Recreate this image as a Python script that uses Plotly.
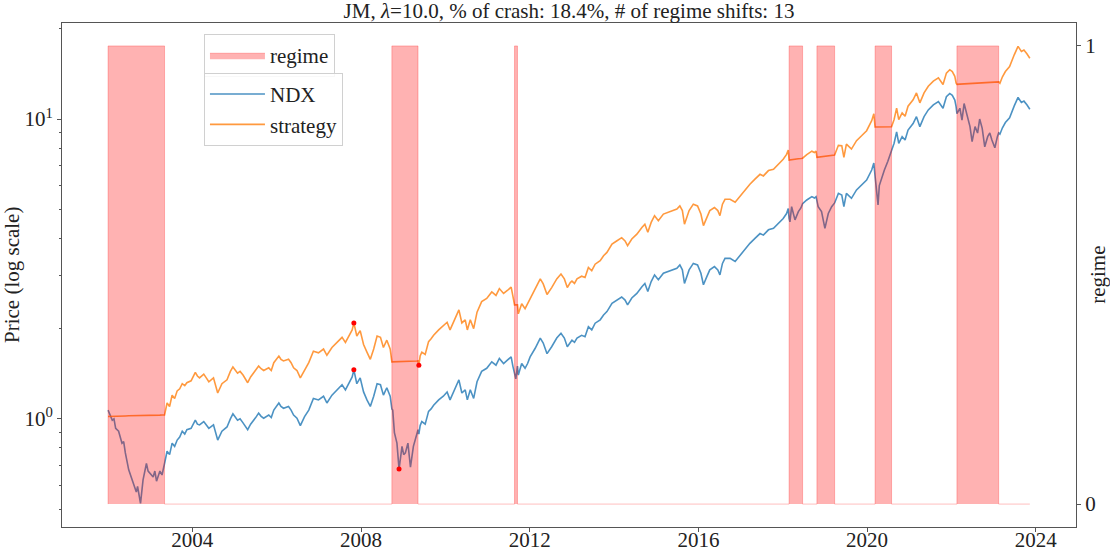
import math
from datetime import datetime
import plotly.graph_objects as go

# ---------------- data ----------------
dates = [
    2002.00, 2002.05, 2002.10, 2002.14, 2002.18, 2002.25, 2002.33, 2002.37, 2002.41, 2002.49, 2002.55, 2002.61, 2002.67, 2002.70, 2002.74, 2002.77, 2002.83, 2002.87, 2002.91, 2002.95, 2002.99,
    2003.07, 2003.11, 2003.15, 2003.23, 2003.28, 2003.34, 2003.40, 2003.46, 2003.52, 2003.58, 2003.64, 2003.70, 2003.76, 2003.82, 2003.87, 2003.97,
    2004.07, 2004.12, 2004.17, 2004.27, 2004.33, 2004.39, 2004.50, 2004.55, 2004.60, 2004.70, 2004.82, 2004.90, 2004.96,
    2005.07, 2005.13, 2005.20, 2005.31, 2005.38, 2005.44, 2005.50, 2005.57, 2005.63, 2005.69, 2005.81, 2005.87, 2005.93,
    2006.05, 2006.10, 2006.16, 2006.28, 2006.34, 2006.40, 2006.48, 2006.56, 2006.66, 2006.76, 2006.87, 2006.99,
    2007.11, 2007.19, 2007.31, 2007.43, 2007.55, 2007.63, 2007.74, 2007.79, 2007.83, 2007.87, 2007.90, 2007.98,
    2008.06, 2008.14, 2008.22, 2008.30, 2008.38, 2008.46, 2008.53, 2008.61, 2008.69, 2008.73, 2008.75, 2008.79, 2008.85, 2008.90, 2008.97,
    2009.01, 2009.05, 2009.11, 2009.17, 2009.24, 2009.32, 2009.35, 2009.37, 2009.40, 2009.44, 2009.52, 2009.60, 2009.66, 2009.72, 2009.84, 2009.95,
    2010.04, 2010.11, 2010.21, 2010.32, 2010.39, 2010.47, 2010.52, 2010.59, 2010.67, 2010.75, 2010.86, 2010.98,
    2011.10, 2011.20, 2011.28, 2011.38, 2011.47, 2011.56, 2011.60, 2011.63, 2011.64, 2011.67, 2011.71, 2011.73, 2011.81, 2011.89, 2011.95,
    2012.01, 2012.13, 2012.25, 2012.32, 2012.41, 2012.52, 2012.64, 2012.74, 2012.82, 2012.89, 2012.96,
    2013.00, 2013.06, 2013.12, 2013.23, 2013.31, 2013.39, 2013.47, 2013.55, 2013.67, 2013.75, 2013.83, 2013.95,
    2014.06, 2014.18, 2014.26, 2014.32, 2014.42, 2014.54, 2014.66, 2014.73, 2014.80, 2014.88, 2014.96,
    2015.05, 2015.17, 2015.29, 2015.41, 2015.49, 2015.56, 2015.62, 2015.67, 2015.72, 2015.78, 2015.88, 2015.98,
    2016.06, 2016.12, 2016.20, 2016.27, 2016.38, 2016.46, 2016.51, 2016.57, 2016.63, 2016.75, 2016.87, 2016.99,
    2017.10, 2017.22, 2017.34, 2017.46, 2017.54, 2017.66, 2017.78, 2017.89,
    2018.01, 2018.09, 2018.13, 2018.15, 2018.17, 2018.21, 2018.29, 2018.37, 2018.43, 2018.47, 2018.57, 2018.69, 2018.75, 2018.79, 2018.81, 2018.84, 2018.92,
    2019.00, 2019.08, 2019.16, 2019.23, 2019.32, 2019.40, 2019.45, 2019.51, 2019.63, 2019.75, 2019.87, 2019.99,
    2020.11, 2020.16, 2020.19, 2020.21, 2020.23, 2020.26, 2020.29, 2020.33, 2020.41, 2020.49, 2020.56, 2020.58, 2020.64, 2020.70, 2020.75, 2020.83, 2020.90, 2020.97,
    2021.09, 2021.17, 2021.25, 2021.35, 2021.45, 2021.57, 2021.69, 2021.80, 2021.88, 2021.96,
    2022.02, 2022.08, 2022.11, 2022.13, 2022.20, 2022.25, 2022.30, 2022.36, 2022.44, 2022.49, 2022.56, 2022.62, 2022.67, 2022.73, 2022.79, 2022.86, 2022.91, 2022.96,
    2023.03, 2023.09, 2023.12, 2023.15, 2023.21, 2023.28, 2023.38, 2023.49, 2023.58, 2023.66, 2023.72, 2023.79, 2023.86,
]

ndx = [
    1.07, 1.03, 0.99, 1.00, 0.93, 0.91, 0.83, 0.84, 0.77, 0.676, 0.64, 0.60, 0.57, 0.595, 0.56, 0.523, 0.626, 0.66, 0.71, 0.67, 0.66,
    0.64, 0.67, 0.62, 0.67, 0.65, 0.71, 0.78, 0.76, 0.83, 0.81, 0.85, 0.87, 0.91, 0.89, 0.92, 0.93,
    0.99, 0.96, 0.955, 0.98, 0.95, 0.93, 0.955, 0.90, 0.85, 0.91, 0.94, 1.00, 1.04,
    0.99, 1.00, 0.97, 0.92, 0.96, 0.99, 1.01, 1.045, 1.02, 1.005, 1.03, 1.01, 1.07,
    1.13, 1.10, 1.085, 1.10, 1.07, 1.03, 1.005, 0.95, 1.018, 1.07, 1.17, 1.157,
    1.19, 1.13, 1.20, 1.25, 1.30, 1.25, 1.33, 1.38, 1.457, 1.38, 1.31, 1.37,
    1.23, 1.157, 1.10, 1.19, 1.31, 1.30, 1.20, 1.27, 1.19, 1.08, 1.07, 0.90, 0.83, 0.68, 0.81,
    0.76, 0.77, 0.83, 0.69, 0.81, 0.90, 0.92, 0.89, 0.95, 0.98, 0.96, 1.06, 1.08, 1.11, 1.157, 1.19,
    1.23, 1.157, 1.25, 1.35, 1.22, 1.25, 1.157, 1.25, 1.17, 1.33, 1.44, 1.475,
    1.55, 1.51, 1.59, 1.53, 1.57, 1.61, 1.50, 1.42, 1.40, 1.36, 1.50, 1.40, 1.53, 1.475, 1.53,
    1.61, 1.72, 1.86, 1.79, 1.65, 1.74, 1.86, 1.93, 1.86, 1.74, 1.81,
    1.83, 1.80, 1.86, 1.90, 1.88, 2.03, 1.98, 2.085, 2.14, 2.22, 2.28, 2.43,
    2.49, 2.55, 2.49, 2.40, 2.53, 2.62, 2.76, 2.83, 2.66, 2.87, 3.02,
    2.91, 3.06, 3.10, 3.14, 3.18, 3.26, 3.14, 2.83, 2.98, 3.14, 3.30, 3.26,
    3.06, 2.80, 2.98, 3.14, 3.22, 3.14, 3.02, 3.30, 3.43, 3.43, 3.35, 3.52,
    3.66, 3.85, 4.00, 4.15, 4.10, 4.27, 4.32, 4.49,
    4.66, 4.84, 5.03, 4.66, 4.54, 5.10, 4.61, 4.91, 5.05, 5.22, 5.37, 5.51, 5.45, 5.51, 5.25, 5.10, 4.91,
    4.32, 4.84, 5.10, 5.25, 5.65, 5.58, 5.10, 5.65, 5.44, 5.80, 6.02, 6.26,
    6.76, 7.13, 6.45, 6.09, 5.60, 5.17, 6.00, 6.26, 6.76, 7.22, 7.80, 7.85, 8.30, 9.06, 8.30, 8.73, 8.51, 9.19,
    9.66, 10.18, 9.43, 10.18, 10.72, 11.14, 11.43, 10.86, 11.86, 12.17,
    12.00, 11.57, 11.00, 10.42, 10.86, 9.92, 11.26, 10.33, 9.43, 8.40, 9.43, 8.98, 10.00, 9.31, 8.08, 8.73, 8.98, 8.51,
    8.02, 8.73, 8.98, 8.90, 9.35, 9.73, 10.10, 11.06, 11.80, 11.35, 11.47, 11.15, 10.78,
]

strategy = [
    1.018, 1.018, 1.019, 1.019, 1.020, 1.021, 1.022, 1.022, 1.023, 1.024, 1.024, 1.025, 1.025, 1.026, 1.026, 1.026, 1.027, 1.027, 1.027, 1.028, 1.028,
    1.028, 1.029, 1.029, 1.029, 1.030, 1.030, 1.13, 1.10, 1.20, 1.17, 1.24, 1.26, 1.31, 1.29, 1.32, 1.34,
    1.43, 1.39, 1.37, 1.41, 1.37, 1.33, 1.37, 1.30, 1.22, 1.31, 1.35, 1.44, 1.49,
    1.42, 1.44, 1.40, 1.32, 1.38, 1.42, 1.45, 1.50, 1.47, 1.45, 1.48, 1.45, 1.54,
    1.62, 1.58, 1.56, 1.58, 1.54, 1.48, 1.45, 1.37, 1.46, 1.54, 1.68, 1.66,
    1.71, 1.63, 1.73, 1.80, 1.87, 1.80, 1.91, 1.98, 2.09, 1.98, 1.89, 1.97,
    1.77, 1.67, 1.58, 1.71, 1.89, 1.87, 1.73, 1.83, 1.71, 1.55, 1.550, 1.551, 1.552, 1.553, 1.554,
    1.554, 1.555, 1.556, 1.557, 1.558, 1.559, 1.560, 1.51, 1.62, 1.67, 1.64, 1.81, 1.85, 1.90, 1.98, 2.04,
    2.10, 1.98, 2.14, 2.31, 2.09, 2.14, 1.98, 2.14, 2.00, 2.27, 2.46, 2.52,
    2.65, 2.58, 2.72, 2.62, 2.68, 2.75, 2.57, 2.43, 2.40, 2.40, 2.40, 2.24, 2.42, 2.33, 2.42,
    2.54, 2.71, 2.93, 2.82, 2.60, 2.74, 2.93, 3.04, 2.93, 2.74, 2.85,
    2.88, 2.83, 2.93, 2.99, 2.96, 3.20, 3.12, 3.28, 3.37, 3.50, 3.59, 3.83,
    3.92, 4.02, 3.92, 3.78, 3.98, 4.13, 4.35, 4.46, 4.19, 4.52, 4.76,
    4.58, 4.82, 4.88, 4.95, 5.01, 5.13, 4.95, 4.46, 4.69, 4.95, 5.20, 5.13,
    4.82, 4.41, 4.69, 4.95, 5.07, 4.95, 4.76, 5.20, 5.40, 5.40, 5.28, 5.54,
    5.76, 6.06, 6.30, 6.54, 6.46, 6.73, 6.80, 7.07,
    7.34, 7.62, 7.88, 7.30, 7.31, 7.33, 7.35, 7.37, 7.38, 7.40, 7.61, 7.81, 7.73, 7.81, 7.45, 7.46, 7.48,
    7.51, 7.53, 7.56, 7.59, 8.17, 8.15, 7.45, 8.25, 7.94, 8.47, 8.79, 9.14,
    9.87, 10.41, 9.40, 9.40, 9.40, 9.405, 9.41, 9.41, 9.415, 9.42, 9.42, 9.42, 9.96, 10.87, 9.96, 10.48, 10.21, 11.03,
    11.59, 12.22, 11.32, 12.22, 12.86, 13.37, 13.72, 13.03, 14.23, 14.60,
    14.40, 13.88, 13.20, 13.05, 13.07, 13.08, 13.09, 13.11, 13.13, 13.14, 13.16, 13.17, 13.18, 13.20, 13.21, 13.23, 13.24, 13.25,
    13.27, 13.29, 13.30, 13.16, 13.83, 14.40, 14.95, 16.37, 17.46, 16.80, 16.98, 16.50, 15.95,
]

# crash regime (1) intervals, decimal years
regime_start = [2002.00, 2008.73, 2011.64, 2018.15, 2018.81, 2020.19, 2022.13]
regime_end = [2003.34, 2009.35, 2011.71, 2018.47, 2019.23, 2020.58, 2023.12]

# max-drawdown markers (peak, trough)
ndx_dd_dates = [2007.83, 2008.90]
ndx_dd_vals = [1.457, 0.68]
strat_dd_dates = [2007.83, 2009.37]
strat_dd_vals = [2.09, 1.51]

title_text = "JM, <i>λ</i>=10.0, % of crash: 18.4%, # of regime shifts: 13"
year_ticks = [2004, 2008, 2012, 2016, 2020, 2024]

if not (len(dates) == len(ndx) == len(strategy)):
    raise SystemExit(f"length mismatch {len(dates)} {len(ndx)} {len(strategy)}")


def to_dt(y):
    yr = int(math.floor(y))
    a = datetime(yr, 1, 1)
    b = datetime(yr + 1, 1, 1)
    return a + (b - a) * (y - yr)


x_dt = [to_dt(d) for d in dates]

# step series for the regime fill
reg_x, reg_y = [], []
t0, t1 = dates[0], dates[-1]
for s, e in zip(regime_start, regime_end):
    reg_x += [s, s, e, e]
    reg_y += [0, 1, 1, 0]
reg_x.append(t1)
reg_y.append(0)
if reg_x[0] > t0:
    reg_x.insert(0, t0)
    reg_y.insert(0, 0)
reg_xdt = [to_dt(v) for v in reg_x]

FONT = "Liberation Serif, Times New Roman, serif"
TXT = "#222222"
AX = "#555555"
FS = 21

fig = go.Figure()
fig.add_trace(go.Scatter(x=x_dt, y=ndx, mode="lines", name="NDX",
                         line=dict(color="rgba(31,119,180,0.8)", width=1.6),
                         legend="legend2"))
fig.add_trace(go.Scatter(x=x_dt, y=strategy, mode="lines", name="strategy",
                         line=dict(color="rgba(255,127,14,0.8)", width=1.6),
                         legend="legend2"))
fig.add_trace(go.Scatter(x=[to_dt(v) for v in ndx_dd_dates] + [to_dt(v) for v in strat_dd_dates],
                         y=ndx_dd_vals + strat_dd_vals, mode="markers",
                         marker=dict(color="red", size=5), showlegend=False))
fig.add_trace(go.Scatter(x=reg_xdt, y=reg_y, mode="lines", name="regime",
                         fill="tozeroy", fillcolor="rgba(255,0,0,0.3)",
                         line=dict(color="rgba(255,0,0,0.25)", width=1),
                         yaxis="y2", legend="legend"))

span = dates[-1] - dates[0]
xr = [to_dt(dates[0] - 0.05 * span), to_dt(dates[-1] + 0.05 * span)]

minor_vals = [0.5, 0.6, 0.7, 0.8, 0.9, 2, 3, 4, 5, 6, 7, 8, 9, 20]

fig.update_layout(
    width=1110, height=552,
    margin=dict(l=62, r=34, t=23, b=25),
    plot_bgcolor="white", paper_bgcolor="white",
    font=dict(family=FONT, size=FS, color=TXT),
    title=dict(text=title_text, x=0.5, xref="paper", xanchor="center",
               y=1 - 11 / 552, yref="container", yanchor="middle",
               font=dict(family=FONT, size=FS, color=TXT)),
    xaxis=dict(type="date", range=xr, showgrid=False, zeroline=False,
               tickvals=[to_dt(y) for y in year_ticks], ticktext=[str(y) for y in year_ticks],
               ticks="outside", ticklen=4, tickwidth=1, tickcolor=AX,
               ticklabelstandoff=-10,
               showline=True, linecolor=AX, linewidth=1, mirror=True,
               tickfont=dict(family=FONT, size=FS, color=TXT), automargin=False),
    yaxis=dict(type="log", range=[math.log10(0.436), math.log10(20.9)],
               showgrid=False, zeroline=False,
               tickvals=[1, 10], ticktext=["10<sup>0</sup>", "10<sup>1</sup>"],
               ticks="outside", ticklen=4, tickwidth=1, tickcolor=AX,
               minor=dict(tickmode="array", tickvals=minor_vals, ticks="outside",
                          ticklen=2, tickwidth=1, tickcolor=AX, showgrid=False),
               showline=True, linecolor=AX, linewidth=1,
               tickfont=dict(family=FONT, size=FS, color=TXT), automargin=False),
    yaxis2=dict(overlaying="y", side="right", range=[-0.05, 1.05],
                showgrid=False, zeroline=False, tickvals=[0, 1], ticktext=["0", "1"],
                ticks="outside", ticklen=4, tickwidth=1, tickcolor=AX,
                showline=True, linecolor=AX, linewidth=1,
                tickfont=dict(family=FONT, size=FS, color=TXT), automargin=False),
    legend=dict(x=0.140, y=0.978, xanchor="left", yanchor="top", itemwidth=55,
                bgcolor="rgba(255,255,255,0.85)", bordercolor="#d0d0d0", borderwidth=1,
                font=dict(family=FONT, size=FS, color=TXT)),
    legend2=dict(x=0.140, y=0.901, xanchor="left", yanchor="top", itemwidth=55,
                 bgcolor="rgba(255,255,255,0.85)", bordercolor="#d0d0d0", borderwidth=1,
                 font=dict(family=FONT, size=FS, color=TXT)),
    showlegend=True,
    annotations=[
        dict(text="Price (log scale)", x=-0.0493, y=0.5, xref="paper", yref="paper",
             textangle=-90, showarrow=False, xanchor="center", yanchor="middle",
             font=dict(family=FONT, size=FS, color=TXT)),
        dict(text="regime", x=1.0215, y=0.5, xref="paper", yref="paper",
             textangle=-90, showarrow=False, xanchor="center", yanchor="middle",
             font=dict(family=FONT, size=FS, color=TXT)),
    ],
)

fig.write_html("out.html", config={"displayModeBar": False})

# remove the browser's default page margin so the figure sits at (0, 0)
with open("out.html", "r", encoding="utf-8") as f:
    html = f.read()
html = html.replace("<head>", "<head><style>html,body{margin:0;padding:0;overflow:hidden;}</style>", 1)
with open("out.html", "w", encoding="utf-8") as f:
    f.write(html)
